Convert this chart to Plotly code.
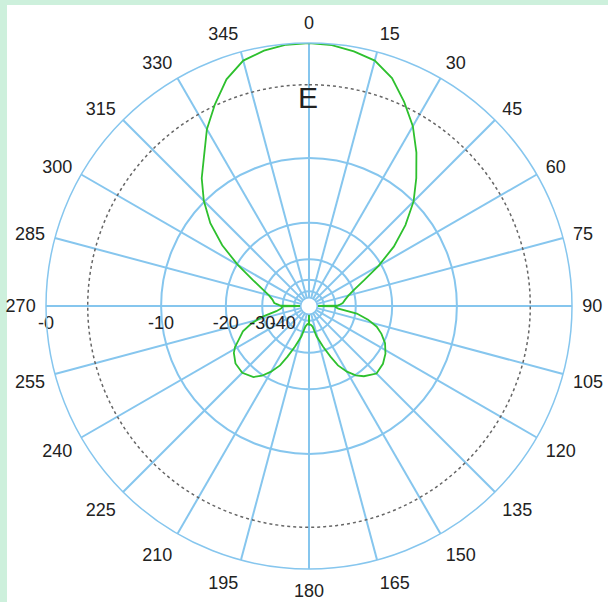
import plotly.graph_objects as go
import numpy as np

# Pattern (E-plane), dB vs angle (degrees, clockwise from top)
angles_deg = [0, 5, 10, 15, 20, 25, 30, 35, 40, 45, 50, 55, 60, 65, 70, 75, 80, 85, 88, 89.5, 90, 90.5, 93, 95,
              99, 103, 107, 111, 116, 122, 128, 135, 142, 146, 150, 154, 157, 161, 166, 170, 175, 179.5, 180,
              180.5, 185, 190, 194, 199, 203, 206, 210, 214, 218, 225, 232, 238, 241, 244, 249, 253, 257, 261,
              265, 267, 269.5, 270, 270.5, 272, 275, 280, 285, 290, 295, 300, 305, 310, 315, 320, 325, 330,
              335, 340, 345, 350, 355, 360]
gain_db = [0, -0.07, -0.3, -0.6, -1.4, -2.7, -4.1, -5.9, -7.9, -10.0, -12.8, -16.2, -20.6, -25.5, -29.5, -32.3,
           -34.2, -35.6, -37.5, -39, -60, -39, -39.5, -38,
           -29.4, -25.5, -22.8, -21.2, -19.7, -18.6, -17.9, -17.6, -18.8, -19.9, -21.6, -24.0, -27.2, -31.5,
           -37, -44, -46, -46, -60,
           -46, -46.5, -44, -37, -31.5, -27.2, -24, -21.6, -19.8, -18.6, -17.8, -18, -18.9, -19.7, -21, -22.8,
           -25.5, -29.5, -36, -39, -39.5, -39, -60, -39, -37.5, -35.1, -34.0, -32.0, -29.0, -25.0, -20.2,
           -15.8, -12.4, -9.9, -7.9, -6.3, -4.4, -2.9, -1.5, -0.6, -0.25, -0.05, 0]

ring_db = [0, -10, -20, -30, -40, -50]
ring_labels = ["-0", "-10", "-20", "-30", "-40", ""]
label_angle = 270
floor_db = -60
half_power_db = -3
angle_ticks = list(range(0, 360, 15))
angle_labels = [str(a) for a in angle_ticks]
title_text = "E"


def to_r(db):
    return 10 ** (np.asarray(db, dtype=float) / 40.0)


GRID = "#86c6ee"
GREEN = "#2ec02e"
MINT = "#cdf0dc"
TXT = "#222222"
FONT = "Liberation Sans, Arial, sans-serif"

circle_theta = np.linspace(0, 360, 361)

fig = go.Figure()
# -3 dB dotted circle
fig.add_trace(go.Scatterpolar(r=np.full(circle_theta.shape, float(to_r(half_power_db))), theta=circle_theta,
                              mode="lines", line=dict(color="#666666", width=1.5, dash="dot"),
                              hoverinfo="skip", showlegend=False))
# inner floor circle
fig.add_trace(go.Scatterpolar(r=np.full(circle_theta.shape, float(to_r(floor_db))), theta=circle_theta,
                              mode="lines", line=dict(color=GRID, width=1.5),
                              hoverinfo="skip", showlegend=False))
# pattern
fig.add_trace(go.Scatterpolar(r=to_r(gain_db), theta=angles_deg, mode="lines",
                              line=dict(color=GREEN, width=1.8), showlegend=False))
# radial (dB) labels along the 270 degree spoke (invisible markers push the text below the spoke)
fig.add_trace(go.Scatterpolar(r=to_r(ring_db), theta=[label_angle] * len(ring_db), mode="markers+text",
                              marker=dict(size=14, color="rgba(0,0,0,0)"),
                              text=ring_labels, textposition="bottom center",
                              textfont=dict(size=18, color=TXT, family=FONT),
                              cliponaxis=False, hoverinfo="skip", showlegend=False))

W, H = 608, 602
cx, cy, R = 309, 306, 263
fig.update_layout(
    width=W, height=H,
    margin=dict(l=0, r=0, t=0, b=0),
    paper_bgcolor="white",
    plot_bgcolor="white",
    font=dict(family=FONT, size=18, color=TXT),
    polar=dict(
        domain=dict(x=[(cx - R) / W, (cx + R) / W], y=[(H - cy - R) / H, (H - cy + R) / H]),
        bgcolor="white",
        hole=float(to_r(floor_db)),
        radialaxis=dict(
            range=[float(to_r(floor_db)), 1.0],
            tickvals=list(to_r(ring_db)),
            ticktext=ring_labels,
            tickmode="array",
            angle=180,
            showticklabels=False,
            showline=False,
            ticks="",
            gridcolor=GRID,
            gridwidth=1.5,
        ),
        angularaxis=dict(
            rotation=90,
            direction="clockwise",
            tickmode="array",
            tickvals=angle_ticks,
            ticktext=angle_labels,
            showline=True,
            linecolor=GRID,
            linewidth=1.5,
            gridcolor=GRID,
            gridwidth=1.5,
            ticks="outside",
            ticklen=6,
            tickcolor="rgba(0,0,0,0)",
            tickfont=dict(size=18, color=TXT),
        ),
    ),
    shapes=[
        dict(type="rect", xref="paper", yref="paper", x0=0, x1=7 / W, y0=0, y1=1,
             fillcolor=MINT, line=dict(width=0), layer="below"),
        dict(type="rect", xref="paper", yref="paper", x0=0, x1=1, y0=1 - 5 / H, y1=1,
             fillcolor=MINT, line=dict(width=0), layer="below"),
    ],
    annotations=[
        dict(text=title_text, x=308 / W, y=(H - 98) / H, xref="paper", yref="paper",
             showarrow=False, font=dict(size=30, color=TXT, family=FONT),
             xanchor="center", yanchor="middle"),
    ],
)

fig.write_html("out.html", config={"displayModeBar": False},
               post_script="document.body.style.margin='0';document.body.style.padding='0';"
                           "document.body.style.overflow='hidden';")
